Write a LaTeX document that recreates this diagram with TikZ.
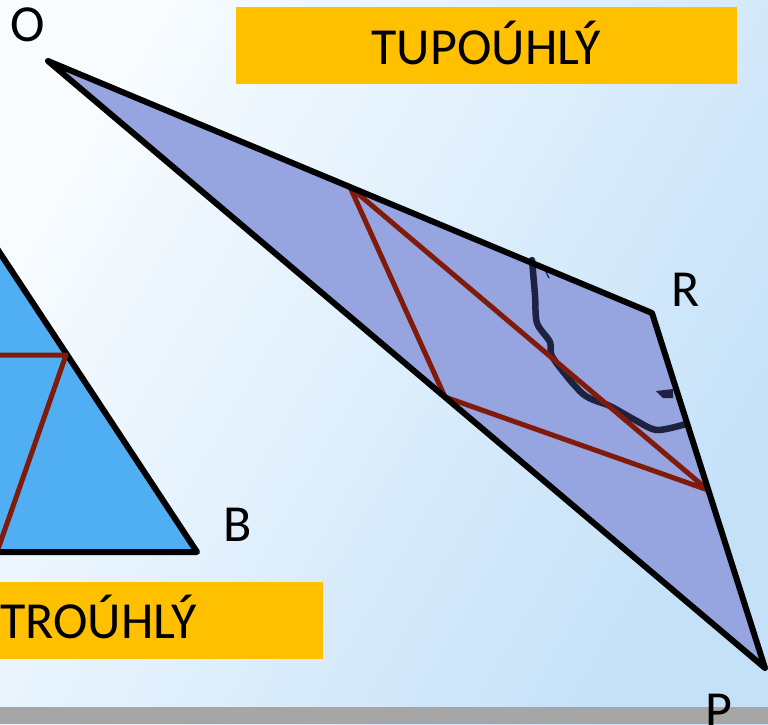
\documentclass[tikz,border=0pt]{standalone}
\usepackage{fontspec}
\setmainfont{Carlito}
\definecolor{bgA}{RGB}{248,252,255}
\definecolor{bgB}{RGB}{196,225,248}
\definecolor{triblue}{RGB}{80,174,242}
\definecolor{tripurple}{RGB}{150,164,223}
\definecolor{darkred}{RGB}{128,26,10}
\definecolor{navyc}{RGB}{30,34,64}
\definecolor{yel}{RGB}{255,192,0}
\definecolor{barg}{RGB}{166,166,166}
\begin{document}
\begin{tikzpicture}[x=1pt,y=-1pt,
  edge/.style={line width=6pt,line join=round,line cap=round},
  redline/.style={draw=darkred,line width=5pt,line join=round},
  navy/.style={draw=navyc,line width=6.5pt,line cap=round,line join=round},
  lbl/.style={font=\fontsize{52}{52}\selectfont,inner sep=0pt},
  ybox/.style={fill=yel,draw=none}]
\useasboundingbox (0,0) rectangle (768,724);
\clip (0,0) rectangle (768,724);
\shade[left color=bgA,right color=bgB,shading angle=60] (0,0) rectangle (768,724);
% blue triangle
\fill[triblue] (-60,162) -- (197,552) -- (-60,552) -- cycle;
\draw[edge] (-60,162) -- (197,552) -- (-60,552);
\coordinate (b1) at (-10,355);
\coordinate (b2) at (66,355);
\coordinate (b3) at (-3,552);
\draw[redline] (b1) -- (b2) -- (b3);
% yellow boxes
\fill[ybox] (-5,582) rectangle (323,659);
\node[lbl,anchor=base west] (t1) at (0,638) {TROÚHLÝ};
\fill[ybox] (236,7) rectangle (737,84);
\node[lbl,anchor=base] (t2) at (486,64) {TUPOÚHLÝ};
% purple triangle
\coordinate (O) at (48,61);
\coordinate (R) at (652,313);
\coordinate (P) at (765,668);
\fill[tripurple] (O) -- (R) -- (P) -- cycle;
% navy marks
\draw[navy] plot[smooth,tension=0.5] coordinates {(532,260) (535,295) (537,323) (550,342) (553,358) (583,394) (610,406) (635,420) (657,430) (686,424)};
\fill[navyc] (656,391) -- (673,389) -- (673,398) -- (663,398) -- cycle;
\draw[navyc,line width=1.2pt] (546,272) -- (549,278);
% red triangle
\coordinate (r1) at (350,187);
\coordinate (r2) at (708,490);
\coordinate (r3) at (445,397);
\draw[redline] (r1) -- (r2) -- (r3) -- cycle;
\draw[edge] (O) -- (R) -- (P) -- cycle;
% gray bar
\fill[barg] (0,707) rectangle (768,724);
% labels
\node[lbl] (lO) at (28,25) {O};
\node[lbl] (lR) at (686,290) {R};
\node[lbl] (lB) at (238,525) {B};
\node[lbl,anchor=base] (lP) at (719,727) {P};
\end{tikzpicture}
\end{document}
